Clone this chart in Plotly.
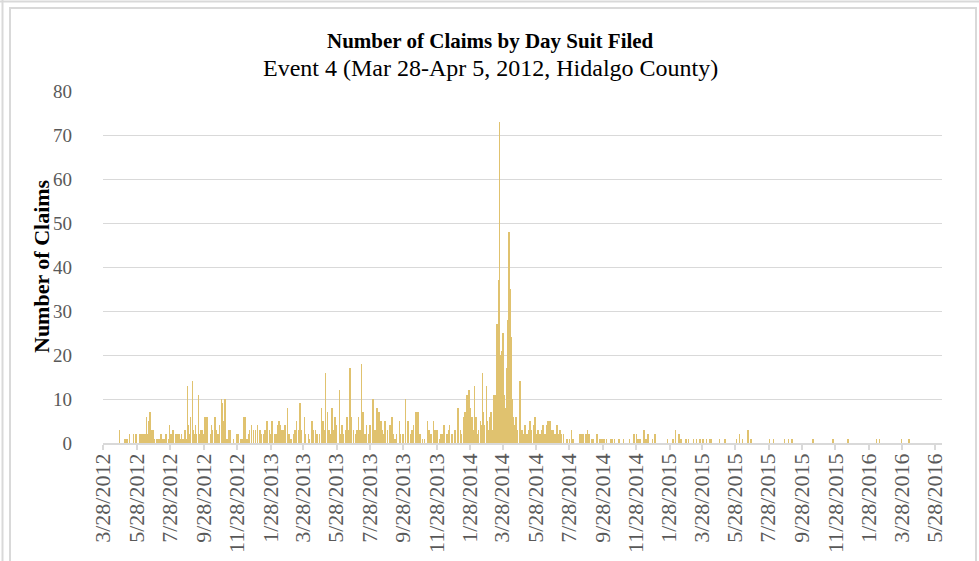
import plotly.graph_objects as go
import pandas as pd

# ---------------- data ----------------
start_date = "2012-03-28"

day_offsets = [
    30, 40, 43, 48, 55, 60, 66, 69, 72, 75, 77, 79, 82, 84, 86, 88, 91, 94, 97, 100,
    103, 106, 109, 112, 115, 119, 121, 123, 125, 128, 133, 136, 139, 141, 143, 146, 150, 152, 154, 156,
    158, 160, 163, 165, 167, 169, 171, 174, 176, 178, 181, 183, 185, 187,
    190, 191, 196, 198, 200, 204, 206, 210, 213, 216, 218, 220, 223, 226, 229, 232, 238, 245, 247, 252,
    255, 258, 260, 263, 266, 268, 271, 275, 279, 282, 287, 290, 294, 296, 300, 304, 306, 309, 313, 315,
    318, 319, 322, 324, 327, 330, 333, 337, 340, 344, 348, 351, 354, 357, 360, 363, 368, 369, 376, 377,
    382, 385,
    388, 391, 396, 399, 402, 404, 407, 410, 413, 416, 419, 421, 424, 427, 432, 435, 437, 440, 443, 446,
    449, 452, 454, 458, 462, 464, 467, 470, 473, 475, 479, 482, 485, 488, 494, 497, 501, 503, 505, 508,
    510, 513, 516, 520, 525, 528, 531, 534, 537, 542, 544, 549, 553, 557, 559, 562, 565, 568,
    572, 576, 577, 580, 584, 588, 593, 596, 600, 604, 607, 611, 615, 618, 621, 624, 629, 632, 634, 638,
    644, 649, 650, 654, 656, 659, 662, 665, 666, 669,
    672, 673, 675, 677, 679, 681, 682, 685, 687, 690, 691, 694, 696, 698, 701, 703, 705, 708, 710, 713,
    715, 718, 720, 721, 723, 724, 725, 726, 727, 728, 729, 730, 731, 732, 734, 736, 738, 739, 740, 741,
    743, 745, 746, 747, 748, 750, 752, 755, 758, 763, 766, 769, 772, 775, 778, 781, 784, 787, 790, 793,
    796, 799,
    802, 805, 808, 811, 814, 816, 818, 821, 824, 827, 830, 833, 836, 839, 842, 849, 853, 857, 859, 861,
    872, 876, 878, 883, 886, 889, 894, 897, 904, 909, 913, 916, 921, 929, 932, 936, 944, 952, 963, 971,
    976, 979, 982, 990, 993, 997, 1005, 1010, 1033, 1043, 1047, 1054, 1057, 1066, 1071, 1080, 1086, 1092, 1098, 1104,
    1110, 1113, 1128, 1138, 1159, 1164, 1170, 1180, 1185, 1186,
    1219, 1227, 1247, 1254, 1260, 1299, 1336, 1363, 1415, 1421, 1461, 1475,
]

claims = [
    3, 1, 1, 2, 2, 2, 2, 2, 2, 2, 2, 6, 2, 5, 7, 3, 3, 1, 1, 1,
    1, 2, 1, 1, 2, 1, 4, 2, 2, 3, 2, 2, 2, 1, 2, 1, 3, 1, 13, 4,
    2, 6, 14, 3, 2, 4, 2, 11, 2, 3, 3, 2, 6, 6,
    6, 3, 2, 4, 3, 6, 3, 2, 4, 10, 9, 5, 10, 1, 3, 3, 1, 2, 2, 1,
    1, 6, 6, 1, 2, 3, 4, 3, 3, 4, 3, 2, 2, 3, 5, 3, 2, 5, 2, 2,
    2, 4, 5, 4, 3, 3, 4, 8, 2, 1, 2, 3, 5, 3, 9, 3, 6, 2, 2, 1,
    5, 3,
    3, 2, 2, 8, 5, 3, 16, 7, 3, 2, 8, 3, 6, 4, 12, 2, 4, 2, 3, 6,
    3, 17, 6, 3, 2, 3, 6, 3, 18, 7, 2, 4, 2, 4, 10, 3, 8, 7, 7, 5,
    3, 2, 5, 3, 4, 6, 2, 1, 2, 5, 2, 2, 10, 5, 5, 2, 3, 4,
    7, 7, 3, 2, 1, 1, 5, 3, 2, 5, 3, 3, 1, 2, 2, 4, 2, 3, 4, 2,
    3, 8, 6, 3, 2, 6, 7, 2, 11, 12,
    8, 5, 6, 3, 13, 4, 6, 2, 3, 5, 4, 16, 7, 4, 13, 5, 3, 6, 7, 3,
    11, 11, 5, 27, 31, 37, 73, 20, 16, 12, 8, 21, 16, 25, 11, 8, 5, 17, 25, 28,
    48, 35, 20, 24, 10, 6, 4, 6, 3, 14, 3, 2, 4, 2, 3, 5, 3, 4, 6, 2,
    3, 2,
    3, 4, 2, 4, 5, 5, 5, 3, 3, 2, 4, 2, 3, 2, 2, 1, 1, 3, 1, 1,
    2, 2, 2, 2, 3, 2, 1, 1, 2, 1, 1, 1, 1, 1, 1, 1, 1, 1, 1, 2,
    2, 1, 1, 3, 1, 2, 1, 2, 1, 1, 3, 2, 1, 1, 1, 1, 1, 1, 1, 1,
    1, 1, 1, 1, 1, 2, 1, 3, 1, 1,
    1, 1, 1, 1, 1, 1, 1, 1, 1, 1, 1, 1,
]

tick_labels = [
    "3/28/2012", "5/28/2012", "7/28/2012", "9/28/2012", "11/28/2012",
    "1/28/2013", "3/28/2013", "5/28/2013", "7/28/2013", "9/28/2013", "11/28/2013",
    "1/28/2014", "3/28/2014", "5/28/2014", "7/28/2014", "9/28/2014", "11/28/2014",
    "1/28/2015", "3/28/2015", "5/28/2015", "7/28/2015", "9/28/2015", "11/28/2015",
    "1/28/2016", "3/28/2016", "5/28/2016",
]
y_ticks = [0, 10, 20, 30, 40, 50, 60, 70, 80]

title_text = "Number of Claims by Day Suit Filed"
subtitle_text = "Event 4 (Mar 28-Apr 5, 2012, Hidalgo County)"
y_title_text = "Number of Claims"

# ---------------- figure ----------------
dates = pd.to_datetime(start_date) + pd.to_timedelta(day_offsets, unit="D")
tickvals = pd.to_datetime(tick_labels, format="%m/%d/%Y")

W, H = 979, 561
L, R, T, B = 103, 37, 91, 118
PW = W - L - R
PH = H - T - B


def px(x):
    return (x - L) / PW


def py(y):
    return (H - B - y) / PH


FONT = "Liberation Serif, Times New Roman, serif"
GRID = "#d9d9d9"
BORDER = "#d9d9d9"

fig = go.Figure(
    go.Bar(
        x=dates,
        y=claims,
        width=86400000,
        marker=dict(color="#e0c26f", line=dict(width=0)),
        hoverinfo="x+y",
    )
)

fig.update_layout(
    width=W,
    height=H,
    margin=dict(l=L, r=R, t=T, b=B, autoexpand=False),
    plot_bgcolor="white",
    paper_bgcolor="white",
    showlegend=False,
    bargap=0,
    font=dict(family=FONT, color="#595959"),
)

fig.update_xaxes(
    type="date",
    range=["2012-03-27 12:00", "2016-06-10"],
    tickvals=tickvals,
    ticktext=tick_labels,
    tickangle=-90,
    ticks="",
    minor=dict(ticks="outside", ticklen=5, tickwidth=1.5, tickcolor=GRID,
               tick0=str(tickvals[0].date()), dtick="M2", showgrid=False),
    showline=True,
    linecolor=GRID,
    linewidth=1.5,
    showgrid=False,
    zeroline=False,
    ticklabelstandoff=0,
    tickfont=dict(family=FONT, size=22, color="#595959"),
)

fig.update_yaxes(
    range=[0, 80],
    tickvals=y_ticks,
    showgrid=True,
    gridcolor=GRID,
    gridwidth=1.3,
    zeroline=False,
    showline=False,
    ticks="",
    ticklabelstandoff=30,
    tickfont=dict(family=FONT, size=19, color="#595959"),
)

annotations = [
    dict(text="<b>" + title_text + "</b>", x=px(490), y=py(41), xref="paper", yref="paper",
         xanchor="center", yanchor="middle", showarrow=False,
         font=dict(family=FONT, size=21, color="#000000")),
    dict(text=subtitle_text, x=px(490), y=py(68), xref="paper", yref="paper",
         xanchor="center", yanchor="middle", showarrow=False,
         font=dict(family=FONT, size=24, color="#000000")),
    dict(text="<b>" + y_title_text + "</b>", x=px(41), y=py(266), xref="paper", yref="paper",
         xanchor="center", yanchor="middle", showarrow=False, textangle=-90,
         font=dict(family=FONT, size=22, color="#000000")),
]
fig.update_layout(annotations=annotations)

shapes = [
    dict(type="line", xref="paper", yref="paper", x0=px(0), x1=px(W), y0=py(1.5), y1=py(1.5),
         line=dict(color=BORDER, width=2)),
    dict(type="line", xref="paper", yref="paper", x0=px(2.5), x1=px(2.5), y0=py(0), y1=py(H + 5),
         line=dict(color=BORDER, width=2)),
    dict(type="rect", xref="paper", yref="paper", x0=px(10), x1=px(976), y0=py(8), y1=py(H + 20),
         line=dict(color=BORDER, width=2), fillcolor="rgba(0,0,0,0)"),
]
fig.update_layout(shapes=shapes)

fig.write_html(
    "out.html",
    config={"displayModeBar": False},
    post_script="document.body.style.margin='0';document.body.style.overflow='hidden';",
)
